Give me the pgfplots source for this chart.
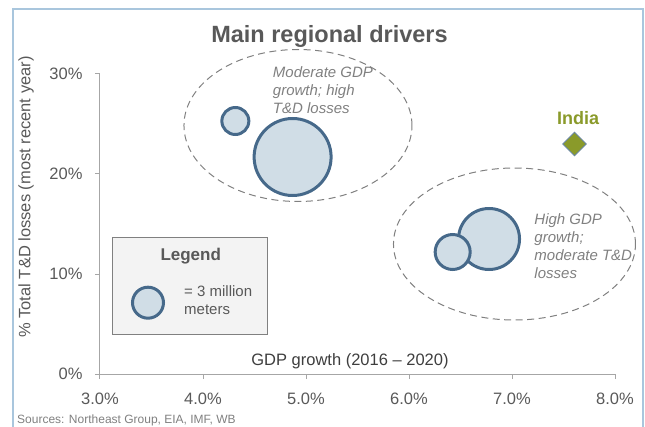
\documentclass[border=0pt]{standalone}
\usepackage{pgfplots}
\pgfplotsset{compat=1.18}
\usepackage{pgfplotstable}
\usepackage{fontspec}
\setmainfont{Liberation Sans}
\definecolor{bubfill}{HTML}{D0DDE6}
\definecolor{bubline}{HTML}{46698A}
\definecolor{frameblue}{HTML}{A9C6DD}
\definecolor{txtgray}{HTML}{595959}
\definecolor{annot}{HTML}{808080}
\definecolor{olivec}{HTML}{8A9A2A}
\definecolor{axgray}{HTML}{A6A6A6}
\definecolor{legfill}{HTML}{F3F3F3}
\pgfplotstableread{
x y r
4.314 25.3 15
4.870 21.7 40
6.777 13.5 32
6.424 12.2 19
}\bubbles
\begin{document}
\begin{tikzpicture}
\useasboundingbox (0pt,0pt) rectangle (645pt,426pt);
\draw[frameblue, line width=1.5pt] (13pt,-5pt) -- (13pt,417pt) -- (643pt,417pt) -- (643pt,-5pt);
\node[font=\fontsize{23.5}{26}\selectfont\bfseries, text=txtgray] at (329.5pt,389.3pt) {Main regional drivers};
\node[font=\fontsize{12}{14}\selectfont, text=annot, anchor=west, inner sep=0pt] at (17pt,6pt) {Sources: Northeast Group, EIA, IMF, WB};
\begin{axis}[
  at={(100pt,52pt)}, anchor=south west,
  scale only axis, width=515pt, height=300pt,
  xmin=3, xmax=8, ymin=0, ymax=30,
  axis x line*=bottom, axis y line*=left,
  axis line style={axgray, line width=1pt},
  xtick={3,4,5,6,7,8},
  xticklabels={3.0\%,4.0\%,5.0\%,6.0\%,7.0\%,8.0\%},
  ytick={0,10,20,30},
  yticklabels={0\%,10\%,20\%,30\%},
  tick style={axgray, line width=1pt},
  tick align=outside, major tick length=5pt,
  ticklabel style={font=\fontsize{16.5}{18}\selectfont, text=txtgray},
  xticklabel style={yshift=-10pt},
  yticklabel style={xshift=-9pt},
  ylabel={\% Total T\&D losses (most recent year)},
  ylabel style={font=\fontsize{16.5}{18}\selectfont, text=txtgray, at={(axis description cs:-0.1437,0.59)}, anchor=center},
  clip=false,
]
\draw[annot, dash pattern=on 7pt off 4.5pt, line width=1pt] (axis cs:4.922,24.85) ellipse [x radius=114pt, y radius=76pt];
\draw[annot, dash pattern=on 7pt off 4.5pt, line width=1pt] (axis cs:7.024,13.0) ellipse [x radius=121pt, y radius=76pt];
\draw[fill=legfill, draw=gray, line width=1pt] (axis cs:3.126,4.0) rectangle (axis cs:4.631,13.7);
\node[font=\fontsize{17}{20}\selectfont\bfseries, text=txtgray] at (axis cs:3.881,11.8) {Legend};
\node[font=\fontsize{15}{18}\selectfont, text=txtgray, anchor=west, align=left] at (axis cs:3.783,7.4) {= 3 million\\meters};
\addplot[only marks, mark=*, mark size=15.5pt, mark options={draw=bubline, fill=bubfill, line width=3pt}] coordinates {(3.466,7.13)};
\addplot[scatter, only marks, mark=*,
  scatter/use mapped color={draw=bubline, fill=bubfill},
  visualization depends on={\thisrow{r}-1.5 \as \rr},
  scatter/@pre marker code/.append style={/tikz/mark size=\rr},
  mark options={line width=3pt},
] table[x=x,y=y,meta=r] {\bubbles};
\addplot[only marks, mark=square*, mark size=8.3pt, mark options={rotate=45, fill=olivec, draw=bubline!80, line width=1pt}] coordinates {(7.607,23.0)};
\node[font=\fontsize{18}{20}\selectfont\bfseries, text=olivec] at (axis cs:7.641,25.6) {India};
\node[font=\fontsize{15}{18}\selectfont\itshape, text=annot, anchor=west, align=left] at (axis cs:4.645,28.43) {Moderate GDP\\growth; high\\T\&D losses};
\node[font=\fontsize{15}{18}\selectfont\itshape, text=annot, anchor=west, align=left] at (axis cs:7.184,12.75) {High GDP\\growth;\\moderate T\&D\\losses};
\node[font=\fontsize{16.5}{18}\selectfont, text=txtgray!70!black] at (axis cs:5.427,1.23) {GDP growth (2016 -- 2020)};
\end{axis}
\end{tikzpicture}
\end{document}
